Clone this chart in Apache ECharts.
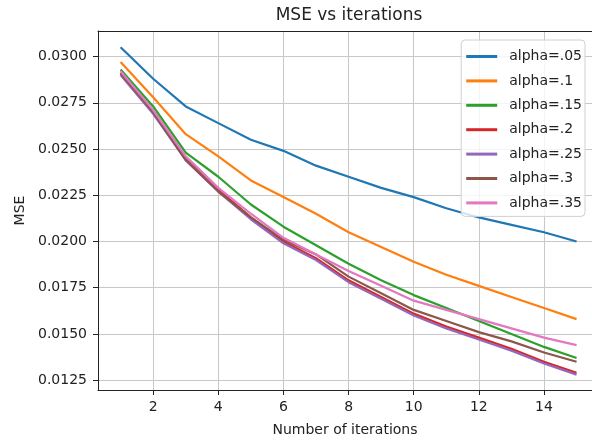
<!DOCTYPE html>
<html>
<head>
<meta charset="utf-8">
<script src="https://cdn.jsdelivr.net/npm/echarts@6/dist/echarts.min.js"></script>
<style>html,body{margin:0;padding:0;background:#fff;overflow:hidden;}#c{width:596px;height:442px;}</style>
</head>
<body>
<div id="c"></div>
<script>
var iterations = [1,2,3,4,5,6,7,8,9,10,11,12,13,14,15];
var seriesNames = ['alpha=.05','alpha=.1','alpha=.15','alpha=.2','alpha=.25','alpha=.3','alpha=.35'];
var mse_05 = [0.0305,0.0288,0.0273,0.0264,0.0255,0.0249,0.0241,0.0235,0.0229,0.0224,0.0218,0.0213,0.0209,0.0205,0.0200];
var mse_10 = [0.0297,0.0278,0.0258,0.0246,0.0233,0.0224,0.0215,0.0205,0.0197,0.0189,0.0182,0.0176,0.0170,0.0164,0.0158];
var mse_15 = [0.0293,0.0273,0.0248,0.0235,0.0220,0.0208,0.0198,0.0188,0.0179,0.0171,0.0164,0.0157,0.0150,0.0143,0.0137];
var mse_20 = [0.0291,0.0270,0.0245,0.0228,0.0213,0.0200,0.0191,0.0179,0.0170,0.0161,0.0154,0.0148,0.0142,0.0135,0.0129];
var mse_25 = [0.0290,0.0269,0.0244,0.0227,0.0212,0.0199,0.0190,0.0178,0.0169,0.0160,0.0153,0.0147,0.0141,0.0134,0.0128];
var mse_30 = [0.0291,0.0270,0.0244,0.0227,0.0213,0.0201,0.0193,0.0181,0.0172,0.0163,0.0157,0.0151,0.0146,0.0140,0.0135];
var mse_35 = [0.0292,0.0271,0.0246,0.0229,0.0215,0.0202,0.0193,0.0184,0.0176,0.0168,0.0163,0.0158,0.0153,0.0148,0.0144];
var xTicks = [2,4,6,8,10,12,14];
var yTicks = [0.0125,0.0150,0.0175,0.0200,0.0225,0.0250,0.0275,0.0300];
var colors = ['#1f77b4','#ff7f0e','#2ca02c','#d62728','#9467bd','#8c564b','#e377c2'];
var allSeries = [mse_05,mse_10,mse_15,mse_20,mse_25,mse_30,mse_35];

var chart = echarts.init(document.getElementById('c'), null, {renderer:'canvas'});
var font = 'DejaVu Sans';
var series = allSeries.map(function(vals, i){
  return {
    name: seriesNames[i], type: 'line', symbol: 'none', showSymbol: false,
    xAxisIndex: 0, yAxisIndex: 0,
    data: iterations.map(function(x, j){ return [x, vals[j]]; }),
    lineStyle: {width: 2.2, color: colors[i]}, itemStyle: {color: colors[i]},
    emphasis: {disabled: true}, animation: false
  };
});
var xMin = 0.306, xMax = 15.474;
chart.setOption({
  animation: false,
  backgroundColor: '#fff',
  title: {text: 'MSE vs iterations', left: 349, top: 7, textAlign: 'center', padding: 0,
    textStyle: {fontFamily: font, fontSize: 17, fontWeight: 'normal', color: '#222'}},
  grid: {left: 98, right: 4, top: 31, bottom: 52, show: false, containLabel: false},
  legend: {
    orient: 'vertical', right: 11, top: 40, icon: 'rect', itemWidth: 31, itemHeight: 3, itemGap: 7.4,
    padding: [8, 3, 5, 5], backgroundColor: 'rgba(255,255,255,0.8)', borderColor: '#d0d0d0', borderWidth: 1, borderRadius: 4,
    textStyle: {fontFamily: font, fontSize: 14, color: '#222', lineHeight: 17, padding: [0,0,0,7]},
    data: seriesNames
  },
  xAxis: [{
    type: 'value', min: xMin, max: xMax,
    name: 'Number of iterations', nameLocation: 'middle', nameGap: 33,
    nameTextStyle: {fontFamily: font, fontSize: 14, color: '#222'},
    axisLine: {show: true, onZero: false, lineStyle: {color: '#222', width: 1}},
    axisTick: {show: true, inside: false, length: 5, customValues: xTicks, lineStyle: {color: '#222'}},
    axisLabel: {customValues: xTicks, margin: 10, fontFamily: font, fontSize: 14, color: '#222'},
    splitLine: {show: true, lineStyle: {color: '#c8c8c8', width: 1}}
  }, {
    type: 'value', min: xMin, max: xMax, position: 'top',
    axisLine: {show: true, onZero: false, lineStyle: {color: '#222', width: 1}},
    axisTick: {show: false}, axisLabel: {show: false}, splitLine: {show: false}
  }],
  yAxis: {
    type: 'value', min: 0.01197, max: 0.03138,
    name: 'MSE', nameLocation: 'middle', nameGap: 70, nameRotate: 90,
    nameTextStyle: {fontFamily: font, fontSize: 14, color: '#222'},
    axisLine: {show: true, onZero: false, lineStyle: {color: '#222', width: 1}},
    axisTick: {show: true, inside: false, length: 5, customValues: yTicks, lineStyle: {color: '#222'}},
    axisLabel: {customValues: yTicks, margin: 11, fontFamily: font, fontSize: 14, color: '#222',
      formatter: function(v){ return v.toFixed(4); }},
    splitLine: {show: true, lineStyle: {color: '#c8c8c8', width: 1}}
  },
  series: series
});
</script>
</body>
</html>
